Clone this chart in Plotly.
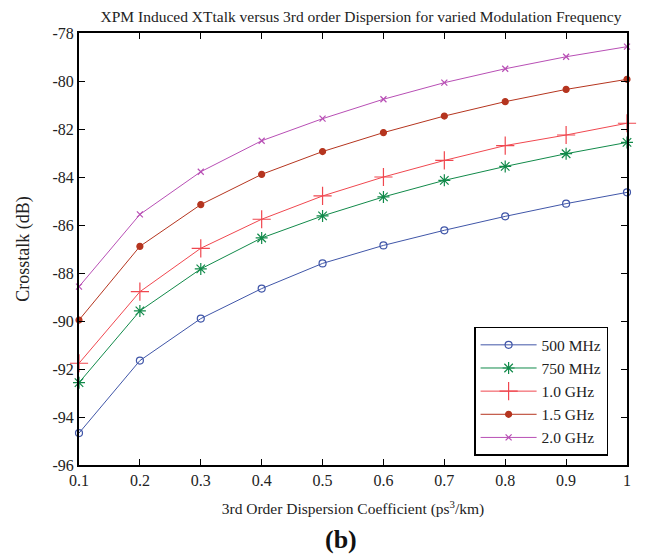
import plotly.graph_objects as go

# dispersion coefficient (ps^3/km)
disp = [0.1, 0.2, 0.3, 0.4, 0.5, 0.6, 0.7, 0.8, 0.9, 1.0]
x_ticktext = ['0.1', '0.2', '0.3', '0.4', '0.5', '0.6', '0.7', '0.8', '0.9', '1']
y_tickvals = [-96, -94, -92, -90, -88, -86, -84, -82, -80, -78]
y_ticktext = ['-96', '-94', '-92', '-90', '-88', '-86', '-84', '-82', '-80', '-78']

xt_500 = [-94.67, -91.65, -89.9, -88.65, -87.6, -86.85, -86.22, -85.64, -85.11, -84.64]
xt_750 = [-92.57, -89.58, -87.83, -86.54, -85.62, -84.83, -84.14, -83.56, -83.03, -82.56]
xt_1000 = [-91.76, -88.78, -86.97, -85.76, -84.79, -84.0, -83.31, -82.69, -82.25, -81.76]
xt_1500 = [-89.96, -86.89, -85.15, -83.89, -82.94, -82.15, -81.46, -80.86, -80.35, -79.93]
xt_2000 = [-88.57, -85.56, -83.78, -82.49, -81.57, -80.76, -80.07, -79.49, -78.99, -78.57]

names = ['500 MHz', '750 MHz', '1.0 GHz', '1.5 GHz', '2.0 GHz']
series = [xt_500, xt_750, xt_1000, xt_1500, xt_2000]
colors = ['#4056a8', '#118a4a', '#f0474f', '#b5351f', '#b84fb5']
symbols = ['circle-open', 'asterisk-open', 'cross-thin-open', 'circle', 'x-thin-open']
sizes = [7, 10, 13, 6, 6]

serif = 'Liberation Serif'

fig = go.Figure()
for nm, ys, c, s, sz in zip(names, series, colors, symbols, sizes):
    fig.add_trace(go.Scatter(x=disp, y=ys, name=nm, mode='lines+markers',
                             line=dict(color=c, width=1),
                             marker=dict(symbol=s, size=sz, color=c,
                                         line=dict(color=c, width=1.2)),
                             cliponaxis=False))

fig.update_layout(
    width=651, height=556,
    margin=dict(l=79, r=24, t=33, b=91),
    paper_bgcolor='white', plot_bgcolor='white',
    font=dict(family=serif, size=16, color='#222'),
    title=dict(text='XPM Induced XTtalk versus 3rd order Dispersion for varied Modulation Frequency',
               x=0.5545, xanchor='center', y=0.971, yanchor='middle',
               font=dict(family=serif, size=15.5, color='#222')),
    legend=dict(x=0.721, y=0.32, xanchor='left', yanchor='top',
                bordercolor='black', borderwidth=1.5, bgcolor='white',
                font=dict(family=serif, size=15.5, color='#222'),
                tracegroupgap=0, itemwidth=56),
    showlegend=True,
)

fig.update_xaxes(range=[0.1, 1.0], tickvals=disp, ticktext=x_ticktext,
                 ticks='inside', ticklen=6, tickcolor='black',
                 showline=True, linecolor='black', linewidth=2, mirror='ticks',
                 showgrid=False, zeroline=False,
                 tickfont=dict(family=serif, size=16),
                 title=dict(text='3rd Order Dispersion Coefficient (ps<sup>3</sup>/km)',
                            font=dict(family=serif, size=15.5), standoff=15))
fig.update_yaxes(range=[-96, -78], tickvals=y_tickvals, ticktext=y_ticktext,
                 ticks='inside', ticklen=6, tickcolor='black',
                 showline=True, linecolor='black', linewidth=2, mirror='ticks',
                 showgrid=False, zeroline=False,
                 tickfont=dict(family=serif, size=16),
                 title=dict(text='Crosstalk (dB)', font=dict(family=serif, size=18), standoff=18))

fig.add_annotation(text='<b>(b)</b>', xref='paper', yref='paper', x=0.478, y=-0.172,
                   xanchor='center', yanchor='middle', showarrow=False,
                   font=dict(family=serif, size=26, color='#111'))

# page body has an 8px default margin; drop it so the figure sits at the corner
fig.write_html('out.html', config={'displayModeBar': False},
               post_script="document.body.style.margin='0px';")
